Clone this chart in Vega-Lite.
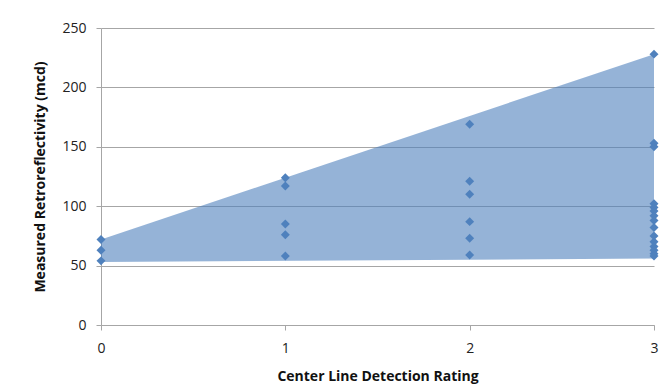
{
  "$schema": "https://vega.github.io/schema/vega-lite/v6.json",
  "width": 553,
  "height": 297,
  "autosize": {"type": "none"},
  "padding": {"left": 101, "top": 28, "right": 8, "bottom": 65},
  "background": "white",
  "config": {
    "view": {"stroke": null},
    "font": "Open Sans",
    "axis": {
      "labelFont": "Open Sans",
      "titleFont": "Open Sans",
      "labelColor": "#222222",
      "titleColor": "#111111",
      "labelFontSize": 14,
      "titleFontSize": 14,
      "titleFontWeight": "bold",
      "domainColor": "#a6a6a6",
      "tickColor": "#a6a6a6",
      "gridColor": "#a6a6a6",
      "tickSize": 5,
      "labelFlush": false
    }
  },
  "datasets": {
    "band": [
      {"rating": 0, "lo": 53, "hi": 72},
      {"rating": 3, "lo": 56, "hi": 228}
    ],
    "pts": [
      {"rating": 0, "value": 72},
      {"rating": 0, "value": 63},
      {"rating": 0, "value": 54},
      {"rating": 1, "value": 124},
      {"rating": 1, "value": 117},
      {"rating": 1, "value": 85},
      {"rating": 1, "value": 76},
      {"rating": 1, "value": 58},
      {"rating": 2, "value": 169},
      {"rating": 2, "value": 121},
      {"rating": 2, "value": 110},
      {"rating": 2, "value": 87},
      {"rating": 2, "value": 73},
      {"rating": 2, "value": 59},
      {"rating": 3, "value": 228},
      {"rating": 3, "value": 153},
      {"rating": 3, "value": 150},
      {"rating": 3, "value": 102},
      {"rating": 3, "value": 99},
      {"rating": 3, "value": 96},
      {"rating": 3, "value": 92},
      {"rating": 3, "value": 88},
      {"rating": 3, "value": 82},
      {"rating": 3, "value": 75},
      {"rating": 3, "value": 70},
      {"rating": 3, "value": 66},
      {"rating": 3, "value": 63},
      {"rating": 3, "value": 60},
      {"rating": 3, "value": 58}
    ]
  },
  "layer": [
    {
      "data": {"name": "band"},
      "mark": {"type": "area", "color": "#4F81BD", "opacity": 0.6},
      "encoding": {
        "x": {
          "field": "rating", "type": "quantitative",
          "scale": {"domain": [0, 3], "nice": false, "zero": false},
          "axis": {
            "title": "Center Line Detection Rating",
            "values": [0, 1, 2, 3], "format": "d",
            "grid": false, "labelPadding": 11, "titlePadding": 14
          }
        },
        "y": {
          "field": "hi", "type": "quantitative",
          "scale": {"domain": [0, 250], "nice": false},
          "axis": {
            "title": "Measured Retroreflectivity (mcd)",
            "values": [0, 50, 100, 150, 200, 250],
            "grid": true, "labelPadding": 10, "titlePadding": 14
          }
        },
        "y2": {"field": "lo"}
      }
    },
    {
      "data": {"name": "pts"},
      "mark": {"type": "point", "shape": "diamond", "filled": true, "color": "#4F81BD", "opacity": 1, "size": 80, "clip": false},
      "encoding": {
        "x": {"field": "rating", "type": "quantitative"},
        "y": {"field": "value", "type": "quantitative"}
      }
    }
  ]
}
